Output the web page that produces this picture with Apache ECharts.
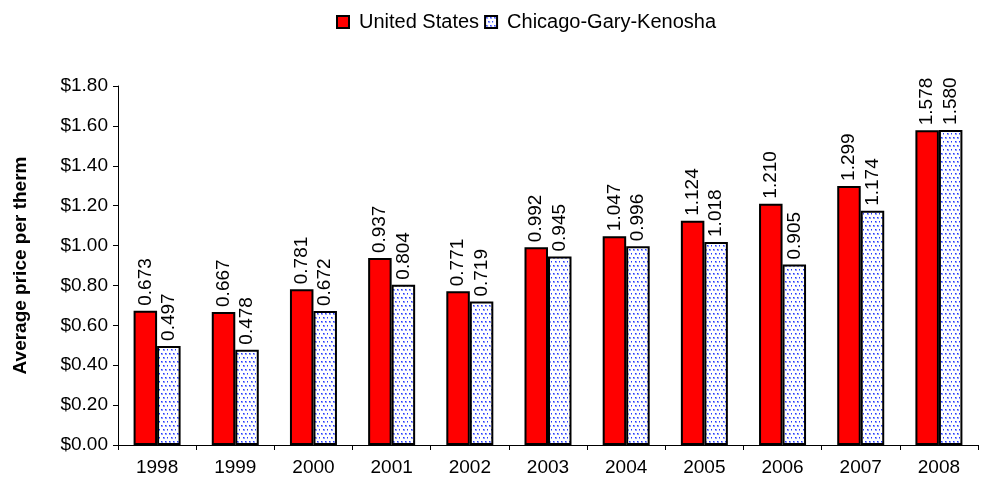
<!DOCTYPE html>
<html><head><meta charset="utf-8">
<script src="https://cdn.jsdelivr.net/npm/echarts@6/dist/echarts.min.js"></script>
<style>html,body{margin:0;padding:0;background:#fff}#c{width:984px;height:484px}</style>
</head><body><div id="c"></div>
<script>
const years = ['1998','1999','2000','2001','2002','2003','2004','2005','2006','2007','2008'];
const usPrices = [0.673,0.667,0.781,0.937,0.771,0.992,1.047,1.124,1.210,1.299,1.578];
const chicagoPrices = [0.497,0.478,0.672,0.804,0.719,0.945,0.996,1.018,0.905,1.174,1.580];
const yTicks = ['$0.00','$0.20','$0.40','$0.60','$0.80','$1.00','$1.20','$1.40','$1.60','$1.80'];

const pc = document.createElement('canvas');
pc.width = 8; pc.height = 8;
const g = pc.getContext('2d');
g.fillStyle = '#ffffff'; g.fillRect(0,0,8,8);
function dot(x,y){
  g.fillStyle = '#8f9bff'; g.fillRect(x,y,2,2);
  g.fillStyle = '#2438ff'; g.fillRect(x,y,1,1);
}
dot(1,1); dot(5,1); dot(3,5); dot(7,5);

const font = 'Liberation Sans, Arial, sans-serif';
const chart = echarts.init(document.getElementById('c'));
const lbl = {show:true, position:'top', rotate:90, align:'left', verticalAlign:'middle', distance:5,
  fontFamily:font, fontSize:19, color:'#000', formatter:p=>p.value.toFixed(3)};
chart.setOption({
  animation:false,
  legend:{top:7, left:331, itemWidth:12, itemHeight:12, itemGap:5,
    textStyle:{fontFamily:font, fontSize:20, color:'#000', padding:[0,0,0,5]},
    data:[{name:'United States', icon:'rect'},{name:'Chicago-Gary-Kenosha', icon:'rect'}]},
  grid:{left:118, right:6, top:86, bottom:39},
  xAxis:{type:'category', data:years,
    axisLine:{lineStyle:{color:'#000'}},
    axisTick:{show:true, alignWithLabel:false, length:5, lineStyle:{color:'#000'}},
    axisLabel:{fontFamily:font, fontSize:19, color:'#000', margin:13}},
  yAxis:{type:'value', min:0, max:1.8, interval:0.2,
    name:'Average price per therm', nameLocation:'middle', nameGap:88,
    nameTextStyle:{fontFamily:font, fontSize:19, fontWeight:'bold', color:'#000'},
    axisLine:{show:true, lineStyle:{color:'#000'}},
    axisTick:{show:true, length:5, lineStyle:{color:'#000'}},
    splitLine:{show:false},
    axisLabel:{fontFamily:font, fontSize:19, color:'#000', margin:10,
      formatter:v=>yTicks[Math.round(v/0.2)]}},
  series:[
    {name:'United States', type:'bar', data:usPrices, barWidth:23.5, barGap:'0%',
      itemStyle:{color:'#ff0000', borderColor:'#000', borderWidth:2}, label:lbl},
    {name:'Chicago-Gary-Kenosha', type:'bar', data:chicagoPrices, barWidth:23.5,
      itemStyle:{color:{image:pc, repeat:'repeat'}, borderColor:'#000', borderWidth:2}, label:lbl}
  ]
});
</script></body></html>
